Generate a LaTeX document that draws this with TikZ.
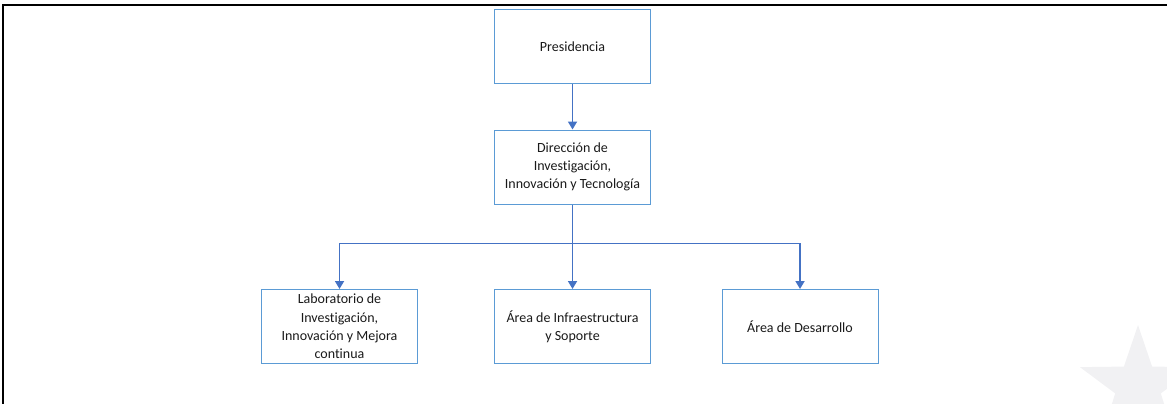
\documentclass[tikz,border=0pt]{standalone}
\usepackage{fontspec}
\setmainfont{Carlito}[Ligatures={NoCommon}]
\usetikzlibrary{arrows.meta}
\definecolor{boxblue}{HTML}{5B9BD5}
\definecolor{arrowblue}{HTML}{4472C4}
\definecolor{starfill}{HTML}{F1F1F3}
\definecolor{txt}{HTML}{1A1A1A}
\tikzset{
  orgbox/.style={draw=boxblue, line width=1pt, fill=white, minimum width=156pt, minimum height=74pt,
    inner sep=0pt, align=center, text=txt, font=\fontsize{14}{18.3}\selectfont},
  conn/.style={draw=arrowblue, line width=1.7pt, -{Triangle[width=9pt,length=8pt]}}
}
\begin{document}
\begin{tikzpicture}[x=1pt,y=-1pt]
\useasboundingbox (0,0) rectangle (1167,404);
\clip (0,0) rectangle (1167,404);
% watermark star
\begin{scope}[shift={(1138,386)},y=1pt]
\fill[starfill] (90:61) -- (126:24) -- (162:61) -- (198:24) -- (234:61) -- (270:24)
  -- (306:61) -- (342:24) -- (18:61) -- (54:24) -- cycle;
\end{scope}
% frame
\draw[line width=2pt,black] (3,404) -- (3,5.5) -- (1167,5.5);
% boxes
\node[orgbox] (pres) at (572.5,46.5) {Presidencia};
\node[orgbox] (dir) at (572.5,167) {Dirección de\\Investigación,\\Innovación y Tecnología};
\node[orgbox] (lab) at (339.5,326.5) {Laboratorio de\\Investigación,\\Innovación y Mejora\\continua};
\node[orgbox] (infra) at (572.5,326.5) {Área de Infraestructura\\y Soporte};
\node[orgbox] (des) at (800,326.5) {Área de Desarrollo};
% connectors
\coordinate (bus) at (572.5,243.5);
\draw[conn] (pres) -- (dir);
\draw[conn] (dir) -- (infra);
\draw[conn] (bus) -| (lab.north);
\draw[conn] (bus) -| (des.north);
\end{tikzpicture}
\end{document}
